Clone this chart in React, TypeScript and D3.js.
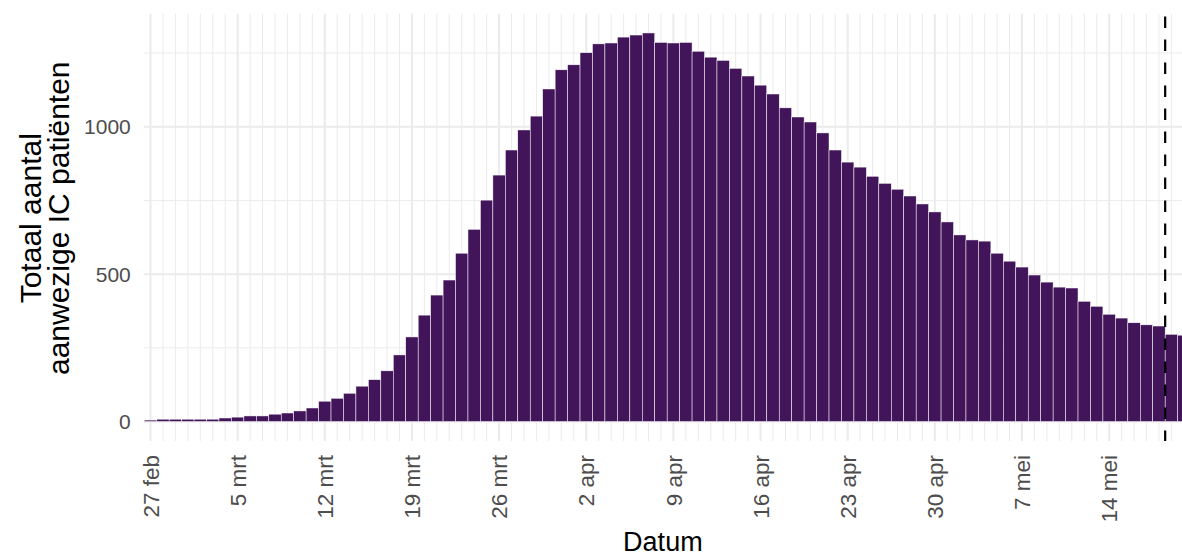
import * as d3 from "d3"

// daily total IC patients, starting 27 feb 2020
const startDate = "2020-02-27"
const icPatients = [
  5, 8, 8, 8, 8, 8, 12, 15, 19, 19, 25, 29, 36, 46, 69, 79, 96, 120, 142, 172,
  226, 287, 361, 429, 480, 571, 652, 751, 836, 921, 989, 1036, 1128, 1193, 1210,
  1251, 1281, 1284, 1304, 1311, 1318, 1286, 1284, 1286, 1256, 1236, 1225, 1198,
  1172, 1141, 1111, 1064, 1033, 1016, 979, 921, 880, 863, 832, 808, 788, 765,
  738, 711, 677, 633, 616, 612, 571, 544, 524, 497, 473, 456, 453, 408, 391,
  364, 351, 335, 328, 324, 296, 293,
]

const xTickDates = [
  "2020-02-27", "2020-03-05", "2020-03-12", "2020-03-19", "2020-03-26", "2020-04-02",
  "2020-04-09", "2020-04-16", "2020-04-23", "2020-04-30", "2020-05-07", "2020-05-14",
]
const xTickLabels = [
  "27 feb", "5 mrt", "12 mrt", "19 mrt", "26 mrt", "2 apr",
  "9 apr", "16 apr", "23 apr", "30 apr", "7 mei", "14 mei",
]
const yTicks = [0, 500, 1000]
const yMinorTicks = [250, 750, 1250]
const cutoffDate = "2020-05-18T12:00:00Z"

const W = 1182
const H = 557
const font = "'Liberation Sans', Arial, Helvetica, sans-serif"
const barColor = "#42155b"
const gridColor = "#ebebeb"

const parse = (s: string) => new Date(s.length === 10 ? s + "T00:00:00Z" : s)

export default function App() {
  const t0 = parse(startDate)
  const data = icPatients.map((v, i) => ({ date: d3.utcDay.offset(t0, i), value: v }))

  // date scale: one day ~12.45px
  const x = d3
    .scaleUtc()
    .domain([parse("2020-02-27"), parse("2020-05-14")])
    .range([150.5, 150.5 + 77 * 12.45])
  const y = d3.scaleLinear().domain([-66, 1384]).range([441, 13.5])

  const left = x(d3.utcHour.offset(t0, -12)) - 0.5
  const right = W
  const top = y(1384)
  const bottom = y(-66)

  const days = d3.utcDay.range(t0, d3.utcDay.offset(t0, 84))
  const majors = xTickDates.map(parse)
  const minors = days.filter((d) => !majors.some((m) => +m === +d))
  const dayW = x(d3.utcDay.offset(t0, 1)) - x(t0)
  const titleY = (top + bottom) / 2 - 9

  return (
    <svg width={W} height={H} style={{ display: "block", position: "absolute", left: 0, top: 0 }}>
      <defs>
        <clipPath id="panel">
          <rect x={left} y={top} width={right - left} height={bottom - top} />
        </clipPath>
      </defs>
      <rect width={W} height={H} fill="#fff" />
      <g clipPath="url(#panel)">
        {/* minor grid */}
        {yMinorTicks.map((v) => (
          <line key={"ym" + v} x1={left} x2={right} y1={y(v)} y2={y(v)} stroke={gridColor} strokeWidth={1} />
        ))}
        {minors.map((d) => (
          <line key={"xm" + +d} x1={x(d)} x2={x(d)} y1={top} y2={bottom} stroke={gridColor} strokeWidth={1} />
        ))}
        {/* major grid */}
        {yTicks.map((v) => (
          <line key={"y" + v} x1={left} x2={right} y1={y(v)} y2={y(v)} stroke={gridColor} strokeWidth={2} />
        ))}
        {majors.map((d) => (
          <line key={"x" + +d} x1={x(d)} x2={x(d)} y1={top} y2={bottom} stroke={gridColor} strokeWidth={2} />
        ))}
        {/* bars */}
        {data.map((d) => (
          <rect
            key={+d.date}
            x={x(d3.utcHour.offset(d.date, -12))}
            y={y(d.value)}
            width={dayW}
            height={y(0) - y(d.value)}
            fill={barColor}
            stroke="#fff"
            strokeWidth={0.5}
          />
        ))}
        {/* cutoff line */}
        <line
          x1={x(parse(cutoffDate))}
          x2={x(parse(cutoffDate))}
          y1={top + 3}
          y2={bottom}
          stroke="#000"
          strokeWidth={2.2}
          strokeDasharray="11.5 11.5"
        />
      </g>

      {/* y axis labels */}
      {yTicks.map((v) => (
        <text
          key={"yl" + v}
          x={left - 13}
          y={y(v)}
          dy="0.36em"
          textAnchor="end"
          fontFamily={font}
          fontSize={21}
          fill="#4d4d4d"
        >
          {v}
        </text>
      ))}

      {/* x axis labels */}
      {majors.map((d, i) => (
        <text
          key={"xl" + i}
          transform={`translate(${x(d)},${bottom + 14}) rotate(-90)`}
          dy="0.36em"
          textAnchor="end"
          fontFamily={font}
          fontSize={22.5}
          fill="#4d4d4d"
        >
          {xTickLabels[i]}
        </text>
      ))}

      {/* axis titles */}
      <text x={(left + right) / 2} y={551} textAnchor="middle" fontFamily={font} fontSize={27} fill="#000">
        Datum
      </text>
      <text
        transform={`translate(41,${titleY}) rotate(-90)`}
        textAnchor="middle"
        fontFamily={font}
        fontSize={30}
        fill="#000"
      >
        Totaal aantal
      </text>
      <text
        transform={`translate(69,${titleY}) rotate(-90)`}
        textAnchor="middle"
        fontFamily={font}
        fontSize={30}
        fill="#000"
      >
        aanwezige IC patiënten
      </text>
    </svg>
  )
}
